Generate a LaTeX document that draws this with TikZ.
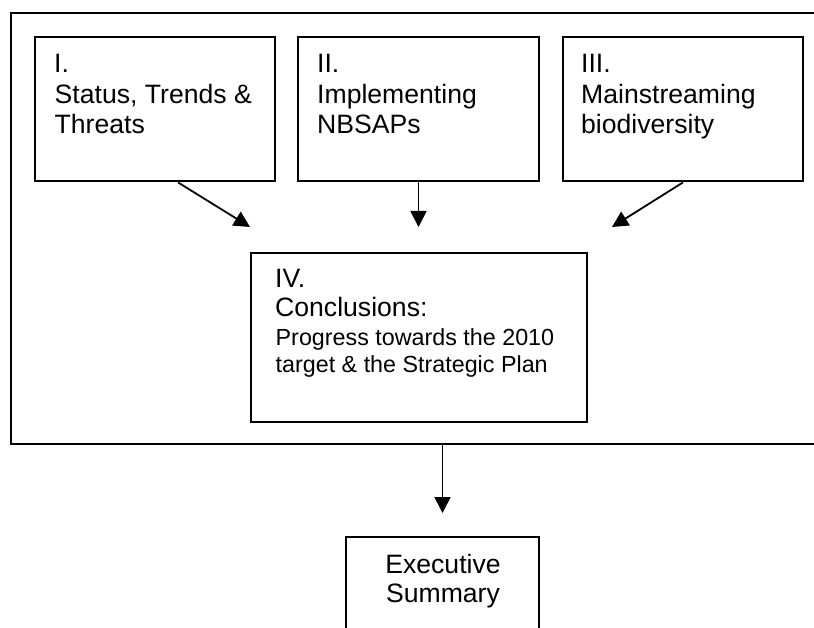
\documentclass[tikz,border=0pt]{standalone}
\usepackage{fontspec}
\setmainfont{Liberation Sans}
\usetikzlibrary{arrows.meta}
\newcommand\fontbig{\fontsize{26.6}{30}\selectfont}
\newcommand\fontsmall{\fontsize{23.3}{27}\selectfont}
\tikzset{
  box/.style={draw=black, line width=2.8pt, inner sep=0pt, fill=none},
  arr/.style={draw=black, line width=1.8pt, -{Triangle[length=16pt,width=16pt]}},
  bigtxt/.style={anchor=base west, inner sep=0pt, font=\fontbig},
  smalltxt/.style={anchor=base west, inner sep=0pt, font=\fontsmall},
  ctrtxt/.style={anchor=base, inner sep=0pt, font=\fontbig}
}
\begin{document}
\begin{tikzpicture}[x=1pt,y=-1pt]
\useasboundingbox (0,0) rectangle (814,628);
\clip (0,0) rectangle (814,628);
\fill[white] (0,0) rectangle (814,628);
% outer frame (runs past the right edge)
\node[box, minimum width=819pt, minimum height=431pt] (outer) at (420.5,228.5) {};
% top boxes
\node[box, minimum width=240pt, minimum height=144pt] (b1) at (155,109) {};
\node[box, minimum width=241pt, minimum height=144pt] (b2) at (418.5,109) {};
\node[box, minimum width=240pt, minimum height=144pt] (b3) at (683,109) {};
% conclusions box
\node[box, minimum width=336pt, minimum height=169pt] (b4) at (419,337.5) {};
% executive summary box (cut off at the bottom)
\node[box, minimum width=193pt, minimum height=126pt] (ex) at (442.5,600) {};

% texts
\node[bigtxt] (t1a) at (54,73) {I.};
\node[bigtxt] (t1b) at (54.5,104) {Status, Trends \&};
\node[bigtxt] (t1c) at (54.5,134) {Threats};
\node[bigtxt] (t2a) at (317,73) {II.};
\node[bigtxt] (t2b) at (317,104) {Implementing};
\node[bigtxt] (t2c) at (317,134) {NBSAPs};
\node[bigtxt] (t3a) at (581,73) {III.};
\node[bigtxt] (t3b) at (581,104) {Mainstreaming};
\node[bigtxt] (t3c) at (581,134) {biodiversity};
\node[bigtxt] (t4a) at (275,288) {IV.};
\node[bigtxt] (t4b) at (275,317) {Conclusions:};
\node[smalltxt] (t4c) at (275.5,345) {Progress towards the 2010};
\node[smalltxt] (t4d) at (275.5,372) {target \& the Strategic Plan};
\node[ctrtxt] (tea) at (443,573) {Executive};
\node[ctrtxt] (teb) at (443,602) {Summary};

% arrow ends
\coordinate (p1) at (250,227);
\coordinate (p2) at (418.5,227);
\coordinate (p3) at (612,227);
\coordinate (p4) at (442.5,513);
\draw[arr] ([xshift=23pt]b1.south) -- (p1);
\draw[arr] (b2.south) -- (p2);
\draw[arr] (b3.south) -- (p3);
\draw[arr] (outer.south -| ex.north) -- (p4);
\end{tikzpicture}
\end{document}
